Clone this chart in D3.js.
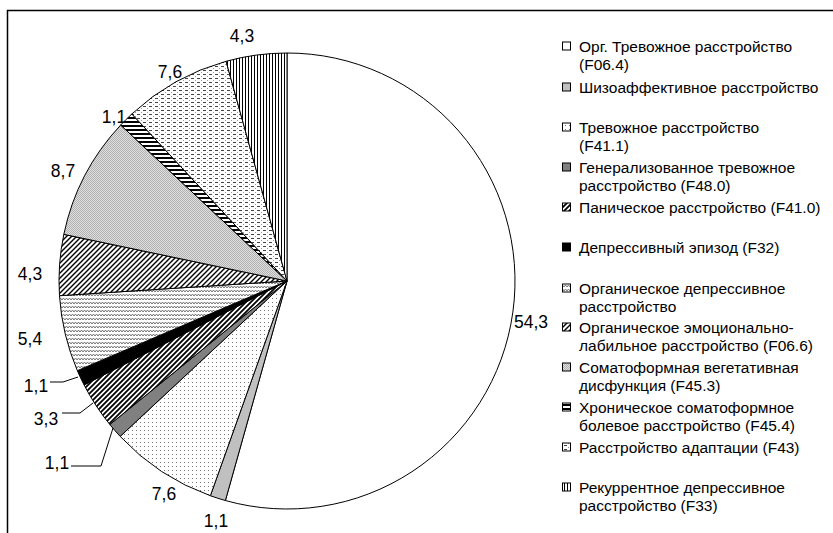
<!DOCTYPE html>
<html><head><meta charset="utf-8">
<script src="https://cdn.jsdelivr.net/npm/d3@7"></script>
<style>body{margin:0;background:#fff}svg{display:block}</style>
</head><body>
<svg id="c" width="833" height="533"></svg>
<script>
const categories = [
  ["Орг. Тревожное расстройство", "(F06.4)"],
  ["Шизоаффективное расстройство"],
  ["Тревожное расстройство", "(F41.1)"],
  ["Генерализованное тревожное", "расстройство (F48.0)"],
  ["Паническое расстройство (F41.0)"],
  ["Депрессивный эпизод (F32)"],
  ["Органическое депрессивное", "расстройство"],
  ["Органическое эмоционально-", "лабильное расстройство (F06.6)"],
  ["Соматоформная вегетативная", "дисфункция (F45.3)"],
  ["Хроническое соматоформное", "болевое расстройство (F45.4)"],
  ["Расстройство адаптации (F43)"],
  ["Рекуррентное депрессивное", "расстройство (F33)"]
];
const values = [54.3, 1.1, 7.6, 1.1, 3.3, 1.1, 5.4, 4.3, 8.7, 1.1, 7.6, 4.3];
const valueLabels = ["54,3","1,1","7,6","1,1","3,3","1,1","5,4","4,3","8,7","1,1","7,6","4,3"];

// layout (kept apart from the data)
const fills = ["#fff","#c0c0c0","url(#pDots)","#808080","url(#pHatchA)","#000","url(#pZig)","url(#pHatchB)","url(#pCheck)","url(#pHoriz)","url(#pDash)","url(#pVert)"];
const labelPos = [[531,322],[216,521],[164,494],[57,463],[46,419],[36,386],[30,339],[30,274],[63,171],[114,117],[170,72],[242,36]];
const leaders = [[[71,466],[101,466],[113,428]], [[62,413],[80,413],[93,403]], [[50,382],[63,382],[78,377]]];
const legendY = [46, 87, 127, 167, 207, 247, 288, 327, 367, 407, 447, 487];

const svg = d3.select("#c");
const defs = svg.append("defs");
function pat(id,w,h,draw){const p=defs.append("pattern").attr("id",id).attr("patternUnits","userSpaceOnUse").attr("width",w).attr("height",h);p.append("rect").attr("width",w).attr("height",h).attr("fill","#fff");draw(p);}
pat("pDots",4,4,p=>p.append("rect").attr("x",1).attr("y",1).attr("width",1).attr("height",1).attr("fill","#777"));
pat("pHatchA",5,5,p=>{p.append("path").attr("d","M-1,1 L1,-1 M0,5 L5,0 M4,6 L6,4").attr("stroke","#000").attr("stroke-width",1.8);});
pat("pHatchB",5,5,p=>{p.append("path").attr("d","M-1,1 L1,-1 M0,5 L5,0 M4,6 L6,4").attr("stroke","#000").attr("stroke-width",1.4);});
pat("pZig",6,4,p=>p.append("path").attr("d","M0,3 L1.5,1 L3,3 L4.5,1 L6,3").attr("fill","none").attr("stroke","#666").attr("stroke-width",0.9));
pat("pCheck",2,2,p=>{p.select("rect").attr("fill","#e0e0e0");p.append("rect").attr("width",1).attr("height",1).attr("fill","#b0b0b0");p.append("rect").attr("x",1).attr("y",1).attr("width",1).attr("height",1).attr("fill","#b0b0b0");});
pat("pHoriz",4,4,p=>p.append("rect").attr("y",0).attr("width",4).attr("height",2).attr("fill","#000"));
pat("pDash",6,4,p=>{p.append("rect").attr("x",0).attr("y",1).attr("width",3).attr("height",1).attr("fill","#444");p.append("rect").attr("x",4).attr("y",3).attr("width",1).attr("height",1).attr("fill","#999");});
pat("pVert",3,4,p=>p.append("rect").attr("x",0).attr("width",1).attr("height",4).attr("fill","#000"));

// frame
svg.append("path").attr("d","M7.5,540 V10.5 H840").attr("fill","none").attr("stroke","#000").attr("stroke-width",1.5);

const cx=287, cy=281, r=228;
const pie = d3.pie().sort(null).value(d=>d).startAngle(0).endAngle(2*Math.PI);
const arc = d3.arc().innerRadius(0).outerRadius(r);
const g = svg.append("g").attr("transform",`translate(${cx},${cy})`);
g.selectAll("path").data(pie(values)).join("path")
  .attr("d",arc).attr("fill",(d,i)=>fills[i]).attr("stroke","#000").attr("stroke-width",1);

const line = d3.line();
leaders.forEach(pts=>svg.append("path").attr("d",line(pts)).attr("fill","none").attr("stroke","#000").attr("stroke-width",1));

svg.selectAll("text.val").data(valueLabels).join("text").attr("class","val")
  .attr("x",(d,i)=>labelPos[i][0]).attr("y",(d,i)=>labelPos[i][1])
  .attr("text-anchor","middle").attr("dominant-baseline","central")
  .attr("font-family","Liberation Sans, Arial, sans-serif").attr("font-size",17.5).text(d=>d);

// legend
const leg = svg.append("g");
categories.forEach((lines,i)=>{
  const y0 = legendY[i];
  leg.append("rect").attr("x",562.5).attr("y",y0-4).attr("width",8).attr("height",8)
    .attr("fill",fills[i]).attr("stroke","#000").attr("stroke-width",1);
  lines.forEach((t,j)=>leg.append("text").attr("x",579).attr("y",y0+j*18.3)
    .attr("dominant-baseline","central").attr("font-family","Liberation Sans, Arial, sans-serif")
    .attr("font-size",15.5).attr("fill","#000").text(t));
});
</script>
</body></html>
